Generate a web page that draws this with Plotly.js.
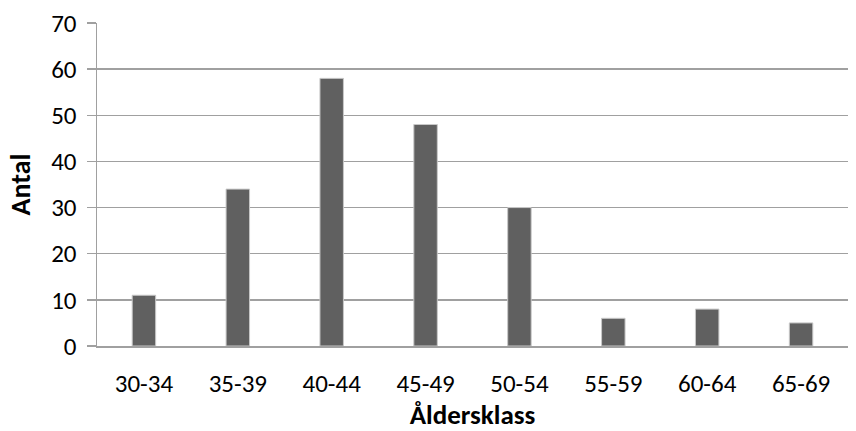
<!DOCTYPE html>
<html>
<head>
<meta charset="utf-8">
<script src="https://cdn.plot.ly/plotly-3.0.1.min.js"></script>
<style>html,body{margin:0;padding:0;background:#fff;}#chart{width:856px;height:431px;}</style>
</head>
<body>
<div id="chart"></div>
<script>
const categories = ["30-34", "35-39", "40-44", "45-49", "50-54", "55-59", "60-64", "65-69"];
const counts = [11, 34, 58, 48, 30, 6, 8, 5];
const yTickValues = [0, 10, 20, 30, 40, 50, 60, 70];
const xTitle = "Åldersklass";
const yTitle = "Antal";

const font = "Carlito, Calibri, 'Open Sans', 'Liberation Sans', sans-serif";

Plotly.newPlot("chart", [{
  type: "bar",
  x: categories,
  y: counts,
  width: 0.25,
  marker: {color: "#606060", line: {color: "#c8c8c8", width: 1}},
  hoverinfo: "x+y"
}], {
  width: 856, height: 431,
  margin: {l: 97, r: 8, t: 23, b: 85},
  paper_bgcolor: "#fff", plot_bgcolor: "#fff",
  font: {family: font, color: "#000", size: 25},
  showlegend: false,
  bargap: 0.75,
  xaxis: {
    type: "category",
    showline: true, linecolor: "#a0a0a0", linewidth: 1.5,
    ticks: "", showgrid: false,
    tickfont: {size: 25},
    ticklabelstandoff: 14,
    title: {text: "<b>" + xTitle + "</b>", font: {size: 27}, standoff: 17},
    fixedrange: true
  },
  yaxis: {
    range: [0, 70],
    tickvals: yTickValues,
    showline: true, linecolor: "#a0a0a0", linewidth: 1.5,
    ticks: "outside", ticklen: 9, tickcolor: "#a0a0a0", tickwidth: 1.5,
    showgrid: true, gridcolor: "#a0a0a0", gridwidth: 1.5,
    zeroline: false,
    tickfont: {size: 25},
    ticklabelstandoff: 5,
    title: {text: "<b>" + yTitle + "</b>", font: {size: 28}, standoff: 12},
    fixedrange: true
  }
}, {displayModeBar: false, staticPlot: true});
</script>
</body>
</html>
